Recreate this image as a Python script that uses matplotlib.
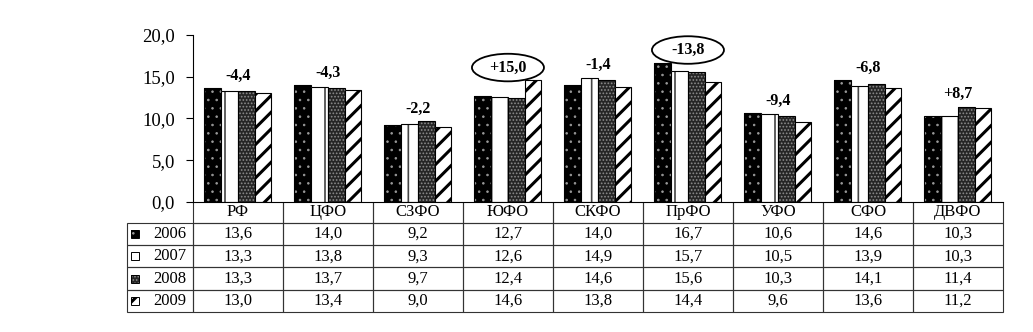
import matplotlib
matplotlib.use("Agg")
import matplotlib.pyplot as plt
from matplotlib.patches import Rectangle, Ellipse
from matplotlib.table import Table
import numpy as np

regions = ["РФ", "ЦФО", "СЗФО", "ЮФО", "СКФО", "ПрФО", "УФО", "СФО", "ДВФО"]
years = ["2006", "2007", "2008", "2009"]
v2006 = [13.6, 14.0, 9.2, 12.7, 14.0, 16.7, 10.6, 14.6, 10.3]
v2007 = [13.3, 13.8, 9.3, 12.6, 14.9, 15.7, 10.5, 13.9, 10.3]
v2008 = [13.3, 13.7, 9.7, 12.4, 14.6, 15.6, 10.3, 14.1, 11.4]
v2009 = [13.0, 13.4, 9.0, 14.6, 13.8, 14.4, 9.6, 13.6, 11.2]
change = [-4.4, -4.3, -2.2, 15.0, -1.4, -13.8, -9.4, -6.8, 8.7]
circled = ["ЮФО", "ПрФО"]
yticks = [0, 5, 10, 15, 20]

series = [v2006, v2007, v2008, v2009]
# face colour, hatch colour, hatch
styles = [("black", "#9a9a9a", ".."),
          ("white", "#444444", "|"),
          ("#262626", "#8c8c8c", "....."),
          ("white", "black", "//")]
hatch_lw = [0.6, 1.2, 0.8, 2.2]

plt.rcParams["font.family"] = ["Liberation Serif", "DejaVu Serif"]
plt.rcParams["hatch.linewidth"] = 1.0


def comma(v, sign=False):
    s = f"{v:+.1f}" if sign else f"{v:.1f}"
    return s.replace(".", ",")


def hatched(p, k):
    if hasattr(p, "set_hatch_linewidth"):
        p.set_hatch_linewidth(hatch_lw[k])


fig = plt.figure(figsize=(10.33, 3.32), dpi=100)
ax = fig.add_axes([0.1868, 0.3916, 0.7841, 0.503])

x = np.arange(len(regions))
w = 0.186
for k, vals in enumerate(series):
    fc, hc, h = styles[k]
    off = (k - 1.5) * w
    bars = ax.bar(x + off, vals, w, color=fc, edgecolor=hc, hatch=h, linewidth=0)
    for p in bars:
        hatched(p, k)
    ax.bar(x + off, vals, w, fill=False, edgecolor="black", linewidth=0.8)

# change labels above each group, two of them ringed
for i, r in enumerate(regions):
    ylab = max(s[i] for s in series) + 1.5
    ax.text(i, ylab, comma(change[i], sign=True), ha="center", va="center",
            fontsize=11.5, fontweight="bold", zorder=4)
    if r in circled:
        ax.add_patch(Ellipse((i, ylab), 0.8, 3.3, facecolor="white",
                             edgecolor="black", linewidth=1.3, clip_on=False,
                             zorder=3))

ax.set_xlim(-0.5, len(regions) - 0.5)
ax.set_ylim(0, 20)
ax.set_yticks(yticks)
ax.set_yticklabels([comma(v) for v in yticks], fontsize=13.5)
ax.set_xticks([])
ax.tick_params(axis="y", direction="out", length=5, width=0.8, pad=8)
for s in ("top", "right"):
    ax.spines[s].set_visible(False)
ax.spines["left"].set_linewidth(0.8)
ax.spines["bottom"].set_linewidth(0.8)

# data table under the axis
rl_w = 66 / 810
tb_h = 110 / 167
head_h = 21 / 110
row_h = (1 - head_h) / len(years)
col_w = 1 / len(regions)
tbl = Table(ax, bbox=[0, -tb_h, 1, tb_h])
edge = "#333333"
for j, r in enumerate(regions):
    c = tbl.add_cell(0, j, width=col_w, height=head_h, text=r, loc="center",
                     edgecolor=edge, facecolor="none")
    c.visible_edges = "BRL"
for i, yr in enumerate(years):
    tbl.add_cell(i + 1, -1, width=rl_w, height=row_h, text=yr, loc="right",
                 edgecolor=edge, facecolor="none")
    for j in range(len(regions)):
        tbl.add_cell(i + 1, j, width=col_w, height=row_h,
                     text=comma(series[i][j]), loc="center",
                     edgecolor=edge, facecolor="none")
tbl.auto_set_font_size(False)
tbl.set_fontsize(12)
for c in tbl.get_celld().values():
    c.set_linewidth(0.8)
ax.add_table(tbl)

# legend squares in the row label cells
sq_w, sq_h = 8 / 810, 8 / 167
for i in range(len(years)):
    fc, hc, h = styles[i]
    yc = -tb_h * (head_h + row_h * (i + 0.5))
    p = Rectangle((-rl_w + 4 / 810, yc - sq_h / 2), sq_w, sq_h,
                  transform=ax.transAxes, clip_on=False, facecolor=fc,
                  edgecolor=hc, hatch=h, linewidth=0)
    hatched(p, i)
    ax.add_patch(p)
    ax.add_patch(Rectangle((-rl_w + 4 / 810, yc - sq_h / 2), sq_w, sq_h,
                           transform=ax.transAxes, clip_on=False, fill=False,
                           edgecolor="black", linewidth=0.7))

fig.savefig("out.png", dpi=100)
